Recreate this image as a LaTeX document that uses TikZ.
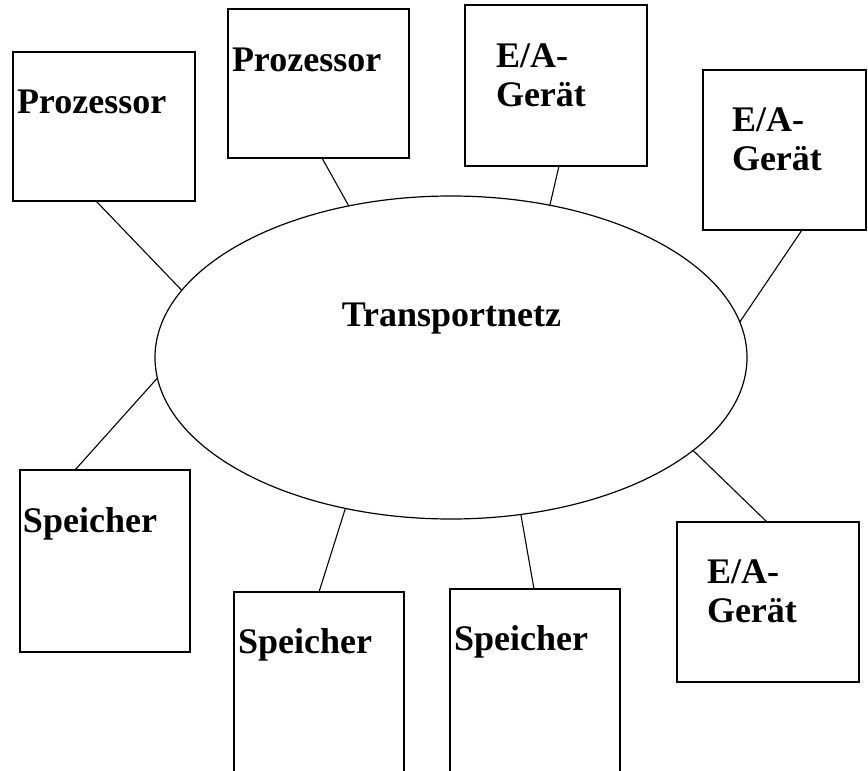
\documentclass[tikz,border=0pt]{standalone}
\usepackage{fontspec}
\setmainfont{Liberation Serif}
\usetikzlibrary{shapes.geometric}
\begin{document}
\begin{tikzpicture}[x=1pt,y=-1pt,
  line width=1.2pt,
  unitbox/.style={draw, rectangle, inner sep=0pt, outer sep=0pt, fill=white},
  boxlabel/.style={anchor=base west, inner sep=0pt, outer sep=0pt, align=left,
    font=\fontsize{36}{39}\selectfont\bfseries},
  link/.style={draw, line width=1.1pt}]
  \useasboundingbox (0,0) rectangle (868,771);
  \clip (0,0) rectangle (868,771);

  % central transport network
  \node[draw, ellipse, minimum width=592pt, minimum height=323pt,
        inner sep=0pt, outer sep=0pt] (net) at (451,357.5) {};
  \node[boxlabel, anchor=base] (netlabel) at (451.5,326) {Transportnetz};

  % attached units (corners given as pixel positions)
  \node[unitbox, minimum width=182pt, minimum height=149pt, anchor=north west] (proc1) at (13,52) {};
  \node[unitbox, minimum width=181pt, minimum height=149pt, anchor=north west] (proc2) at (228,9) {};
  \node[unitbox, minimum width=182pt, minimum height=161pt, anchor=north west] (io1) at (465,5) {};
  \node[unitbox, minimum width=163pt, minimum height=160pt, anchor=north west] (io2) at (703,70) {};
  \node[unitbox, minimum width=170pt, minimum height=182pt, anchor=north west] (mem1) at (20,470) {};
  \node[unitbox, minimum width=170pt, minimum height=200pt, anchor=north west] (mem2) at (234,592) {};
  \node[unitbox, minimum width=170pt, minimum height=200pt, anchor=north west] (mem3) at (450,589) {};
  \node[unitbox, minimum width=182pt, minimum height=160pt, anchor=north west] (io3) at (677,522) {};

  % labels (two-line labels are placed by the baseline of their last line)
  \node[boxlabel] (tproc1) at ([xshift=4pt, yshift=-61pt]proc1.north west) {Prozessor};
  \node[boxlabel] (tproc2) at ([xshift=4pt, yshift=-62pt]proc2.north west) {Prozessor};
  \node[boxlabel] (tio1) at ([xshift=31pt, yshift=-101pt]io1.north west) {E/A-\\Gerät};
  \node[boxlabel] (tio2) at ([xshift=29pt, yshift=-100pt]io2.north west) {E/A-\\Gerät};
  \node[boxlabel] (tmem1) at ([xshift=3pt, yshift=-62pt]mem1.north west) {Speicher};
  \node[boxlabel] (tmem2) at ([xshift=4pt, yshift=-61pt]mem2.north west) {Speicher};
  \node[boxlabel] (tmem3) at ([xshift=4pt, yshift=-61pt]mem3.north west) {Speicher};
  \node[boxlabel] (tio3) at ([xshift=30pt, yshift=-100pt]io3.north west) {E/A-\\Gerät};

  % links to the network
  \draw[link] ([xshift=83pt]proc1.south west) -- (net.166.4);
  \draw[link] ([xshift=94pt]proc2.south west) -- (net.124.8);
  \draw[link] ([xshift=94pt]io1.south west) -- (net.57.8);
  \draw[link] ([xshift=99pt]io2.south west) -- (net.7.0);
  \draw[link] ([xshift=55pt]mem1.north west) -- (net.184.4);
  \draw[link] ([xshift=85pt]mem2.north west) -- (net.235.4);
  \draw[link] ([xshift=84pt]mem3.north west) -- (net.294.2);
  \draw[link] ([xshift=90pt]io3.north west) -- (net.339.1);
\end{tikzpicture}
\end{document}
